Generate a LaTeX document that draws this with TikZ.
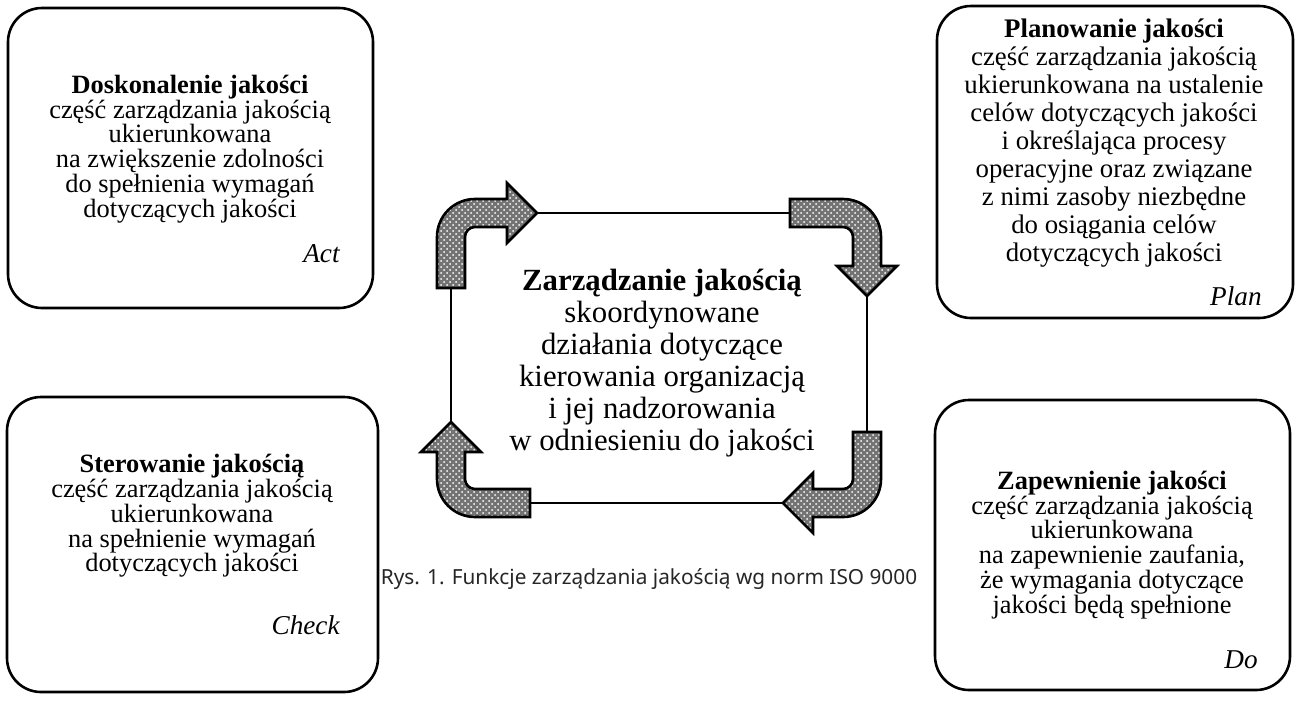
\documentclass[tikz,border=0pt]{standalone}
\usepackage{fontspec}
\setmainfont{Liberation Serif}
\newfontfamily\capfont{Noto Sans}
\usetikzlibrary{patterns}
\begin{document}
\begin{tikzpicture}[x=0.5pt,y=-0.5pt,
  box/.style={draw, line width=1.3pt, rounded corners=17pt, inner sep=0pt},
  body/.style={align=center, font=\fontsize{13.2}{12.4}\selectfont, inner sep=0pt},
  tag/.style={font=\fontsize{13.6}{12}\selectfont\itshape, anchor=base east, inner sep=0pt},
  bendarrow/.style={draw, line width=1.3pt, line join=miter, preaction={fill=black!55}, pattern=crosshatch dots, pattern color=white},
  conn/.style={draw, line width=1pt}
]
\useasboundingbox (0,0) rectangle (1299,702);

% boxes
\node[box, minimum width=182.5pt, minimum height=150pt] (act) at (190.5,158) {};
\node[box, minimum width=178pt, minimum height=156pt] (plan) at (1115,162) {};
\node[box, minimum width=185.5pt, minimum height=147.5pt] (check) at (192.5,544.5) {};
\node[box, minimum width=177.5pt, minimum height=145pt] (do) at (1112.5,545) {};

% box texts
\node[body] (actT) at (190,149) {\textbf{Doskonalenie jakości}\\część zarządzania jakością\\ukierunkowana\\na zwiększenie zdolności\\do spełnienia wymagań\\dotyczących jakości};
\node[tag] (actL) at (340,262) {Act};

\node[body, font=\fontsize{13.4}{14}\selectfont] (planT) at (1114,143) {\textbf{Planowanie jakości}\\część zarządzania jakością\\ukierunkowana na ustalenie\\celów dotyczących jakości\\i określająca procesy\\operacyjne oraz związane\\z nimi zasoby niezbędne\\do osiągania celów\\dotyczących jakości};
\node[tag] (planL) at (1262,305) {Plan};

\node[body] (checkT) at (192,516) {\textbf{Sterowanie jakością}\\część zarządzania jakością\\ukierunkowana\\na spełnienie wymagań\\dotyczących jakości};
\node[tag] (checkL) at (340,634) {Check};

\node[body] (doT) at (1112,545) {\textbf{Zapewnienie jakości}\\część zarządzania jakością\\ukierunkowana\\na zapewnienie zaufania,\\że wymagania dotyczące\\jakości będą spełnione};
\node[tag] (doL) at (1258,668) {Do};

% central text
\node[align=center, inner sep=0pt, font=\fontsize{15.4}{16}\selectfont] (center) at (662,363) {\textbf{Zarządzanie jakością}\\skoordynowane\\działania dotyczące\\kierowania organizacją\\i jej nadzorowania\\w odniesieniu do jakości};

% caption
\node[inner sep=0pt, font=\capfont\fontsize{10.4}{12}\selectfont, text=black!85] (cap) at (649,579) {Rys. 1. Funkcje zarządzania jakością wg norm ISO 9000};

% connector end points
\coordinate (tlTip) at (537,213);
\coordinate (trEnd) at (790,213);
\coordinate (trTip) at (867,296);
\coordinate (brEnd) at (867,432);
\coordinate (brTip) at (783,503);
\coordinate (blEnd) at (530,503);
\coordinate (blTip) at (451,422);
\coordinate (tlEnd) at (451,288);

\draw[conn] (tlTip) -- (trEnd);
\draw[conn] (trTip) -- (brEnd);
\draw[conn] (brTip) -- (blEnd);
\draw[conn] (blTip) -- (tlEnd);

% bent arrows
% top-left
\path[bendarrow] (437,288) -- (437,237) .. controls (437,216) and (454,199) .. (475,199)
  -- (507,199) -- (507,183) -- (tlTip) -- (507,243) -- (507,227) -- (475,227)
  .. controls (469.5,227) and (465,231.5) .. (465,237) -- (465,288) -- cycle;
% top-right
\path[bendarrow] (790,199) -- (843,199) .. controls (864,199) and (881,216) .. (881,237)
  -- (881,266) -- (897,266) -- (trTip) -- (837,266) -- (853,266) -- (853,237)
  .. controls (853,231.5) and (848.5,227) .. (843,227) -- (790,227) -- cycle;
% bottom-right
\path[bendarrow] (881,432) -- (881,479) .. controls (881,500) and (864,517) .. (843,517)
  -- (813,517) -- (813,533) -- (brTip) -- (813,473) -- (813,489) -- (843,489)
  .. controls (848.5,489) and (853,484.5) .. (853,479) -- (853,432) -- cycle;
% bottom-left
\path[bendarrow] (530,517) -- (475,517) .. controls (454,517) and (437,500) .. (437,479)
  -- (437,452) -- (421,452) -- (blTip) -- (481,452) -- (465,452) -- (465,479)
  .. controls (465,484.5) and (469.5,489) .. (475,489) -- (530,489) -- cycle;
\end{tikzpicture}
\end{document}
